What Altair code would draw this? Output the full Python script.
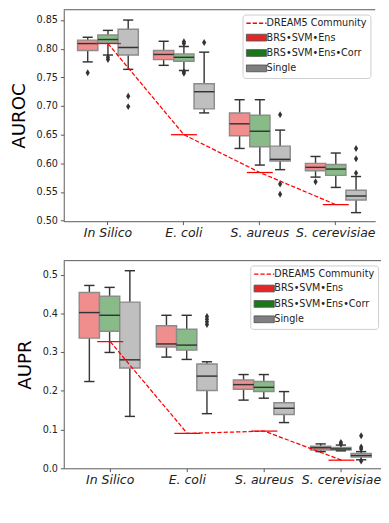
import altair as alt
import pandas as pd

FONT = "DejaVu Sans"

categories = ["In Silico", "E. coli", "S. aureus", "S. cerevisiae"]
methods = ["BRS•SVM•Ens", "BRS•SVM•Ens•Corr", "Single"]
community = "DREAM5 Community"

# box statistics per category: [whisker_low, q1, median, q3, whisker_high]
auroc_ens = [[0.777, 0.797, 0.809, 0.815, 0.820],
             [0.771, 0.781, 0.790, 0.797, 0.813],
             [0.626, 0.648, 0.669, 0.688, 0.711],
             [0.576, 0.587, 0.593, 0.600, 0.612]]
auroc_corr = [[0.789, 0.810, 0.816, 0.824, 0.832],
              [0.762, 0.778, 0.785, 0.791, 0.804],
              [0.597, 0.629, 0.656, 0.684, 0.711],
              [0.558, 0.579, 0.590, 0.598, 0.618]]
auroc_single = [[0.764, 0.789, 0.802, 0.834, 0.850],
                [0.688, 0.695, 0.725, 0.739, 0.794],
                [0.589, 0.604, 0.607, 0.630, 0.658],
                [0.514, 0.536, 0.543, 0.553, 0.577]]
auroc_out_ens = [[0.758], [], [], [0.568]]
auroc_out_corr = [[0.785, 0.781], [0.812, 0.809, 0.760, 0.757], [], []]
auroc_out_single = [[0.717, 0.699], [0.811], [0.685, 0.564, 0.546], [0.626, 0.608, 0.583]]
auroc_dream5 = [0.809, 0.650, 0.584, 0.528]

aupr_ens = [[0.224, 0.336, 0.402, 0.454, 0.472],
            [0.287, 0.313, 0.321, 0.368, 0.395],
            [0.176, 0.204, 0.216, 0.228, 0.242],
            [0.043, 0.047, 0.053, 0.057, 0.063]]
aupr_corr = [[0.299, 0.354, 0.395, 0.444, 0.467],
             [0.281, 0.305, 0.318, 0.359, 0.395],
             [0.181, 0.198, 0.209, 0.224, 0.242],
             [0.045, 0.047, 0.050, 0.054, 0.060]]
aupr_single = [[0.134, 0.259, 0.280, 0.429, 0.510],
               [0.141, 0.201, 0.238, 0.269, 0.275],
               [0.118, 0.139, 0.155, 0.169, 0.198],
               [0.022, 0.029, 0.033, 0.038, 0.043]]
aupr_out_ens = [[], [], [], []]
aupr_out_corr = [[], [], [], [0.067, 0.063]]
aupr_out_single = [[], [0.392, 0.385, 0.378, 0.371], [], [0.084, 0.055, 0.050, 0.019]]
aupr_dream5 = [0.327, 0.090, 0.096, 0.021]

auroc_ticks = [0.50, 0.55, 0.60, 0.65, 0.70, 0.75, 0.80, 0.85]
aupr_ticks = [0.0, 0.1, 0.2, 0.3, 0.4, 0.5]

LIGHT = ["#f08e8e", "#89bb89", "#bfbfbf"]
LEG_DOMAIN = [community] + methods
LEG_RANGE = ["#ff0000", "#e32626", "#177a17", "#7f7f7f"]
DIAMOND = "M0,-1L0.6,0L0,1L-0.6,0Z"
IS_D = "datum.value === 'DREAM5 Community'"


def stats_df(rows_by_method):
    recs = []
    for m, rows in zip(methods, rows_by_method):
        for c, r in zip(categories, rows):
            recs.append(dict(category=c, method=m, low=r[0], q1=r[1], med=r[2], q3=r[3], high=r[4]))
    return pd.DataFrame(recs)


def outlier_df(out_by_method):
    recs = []
    for m, rows in zip(methods, out_by_method):
        for c, vals in zip(categories, rows):
            for v in vals:
                recs.append(dict(category=c, method=m, value=v))
    return pd.DataFrame(recs)


def panel(stats, outl, dream, ytitle, domain, ticks, fmt, width, height, po, align, box_w):
    xsc = alt.Scale(domain=categories, paddingInner=0, paddingOuter=po, align=align)
    offsc = alt.Scale(domain=methods, paddingInner=0, paddingOuter=0.375)
    ysc = alt.Scale(domain=domain, nice=False, zero=False)
    xaxis = alt.Axis(title=None, labelAngle=0, labelFontStyle="italic", labelFontSize=13,
                     labelPadding=2, grid=False)
    yaxis = alt.Axis(title=ytitle, values=ticks, format=fmt, labelFontSize=10, titleFontSize=19,
                     titleFontWeight="normal", titleColor="black", titlePadding=8,
                     labelPadding=3, grid=False, labelOverlap=False)

    def Y(field):
        return alt.Y(field, type="quantitative", scale=ysc, axis=yaxis)

    X = alt.X("category:N", scale=xsc, sort=categories, axis=xaxis)
    XO = alt.XOffset("method:N", scale=offsc, sort=methods)
    base = alt.Chart(stats)

    whisk = base.mark_rule(color="#3a3a3a", strokeWidth=1.5).encode(
        x=X, xOffset=XO, y=Y("low"), y2="high:Q")
    box = base.mark_bar(stroke="#8c8c8c", strokeWidth=1.5).encode(
        x=X, xOffset=XO, y=Y("q1"), y2="q3:Q",
        fill=alt.Fill("method:N", scale=alt.Scale(domain=methods, range=LIGHT), legend=None))
    med = base.mark_tick(color="#333333", thickness=1.5, size=box_w, opacity=1).encode(
        x=X, xOffset=XO, y=Y("med"))
    cap_lo = base.mark_tick(color="#333333", thickness=1.5, size=box_w / 2, opacity=1).encode(
        x=X, xOffset=XO, y=Y("low"))
    cap_hi = base.mark_tick(color="#333333", thickness=1.5, size=box_w / 2, opacity=1).encode(
        x=X, xOffset=XO, y=Y("high"))
    fl = alt.Chart(outl).mark_point(shape=DIAMOND, filled=True, color="#333333", size=52,
                                    opacity=1).encode(x=X, xOffset=XO, y=Y("value"))
    legend = alt.Legend(
        title=None, orient="top-right", offset=5, fillColor="white",
        strokeColor="#cccccc", cornerRadius=3, padding=4, labelFont=FONT, labelFontSize=10,
        labelColor="#222222", symbolSize=100, symbolOpacity=1, rowPadding=4, labelOffset=11,
        symbolType={"expr": IS_D + " ? 'M-1,0H3.2' : 'M-1,-0.7H3.2V0.7H-1Z'"},
        symbolStrokeColor={"expr": IS_D + " ? 'red' : '#555555'"},
        symbolStrokeWidth={"expr": IS_D + " ? 1.5 : 1"},
        symbolDash={"expr": IS_D + " ? [4.5, 2] : [1, 0]"},
    )
    carrier = base.mark_bar().encode(
        x=X, xOffset=XO, y=Y("med"), y2="med:Q",
        color=alt.Color("method:N", scale=alt.Scale(domain=LEG_DOMAIN, range=LEG_RANGE), legend=legend))
    ddf = pd.DataFrame({"category": categories, "value": dream})
    seg = alt.Chart(ddf).mark_tick(color="red", thickness=1.3, size=27, opacity=1).encode(
        x=X, y=Y("value"))
    dash = alt.Chart(ddf).mark_line(color="red", strokeDash=[4.5, 2], strokeWidth=1.3).encode(
        x=X, y=Y("value"))
    spine = alt.Chart(pd.DataFrame({"a": [0]})).mark_rule(color="#555555", strokeWidth=1).encode(
        x=alt.value(0), x2=alt.value(width), y=alt.value(0))
    return alt.layer(whisk, box, med, cap_lo, cap_hi, fl, carrier, seg, dash, spine).properties(
        width=width, height=height)


top = panel(stats_df([auroc_ens, auroc_corr, auroc_single]),
            outlier_df([auroc_out_ens, auroc_out_corr, auroc_out_single]),
            auroc_dream5, "AUROC", [0.499, 0.868], auroc_ticks, ".2f", 324, 220, 0.0506, 0.81, 21)
bottom = panel(stats_df([aupr_ens, aupr_corr, aupr_single]),
               outlier_df([aupr_out_ens, aupr_out_corr, aupr_out_single]),
               aupr_dream5, "AUPR", [0.0, 0.536], aupr_ticks, ".1f", 332, 216, 0.07, 0.73, 21.4)

chart = alt.vconcat(top, bottom, spacing=21).resolve_scale(
    color="independent", fill="independent"
).resolve_legend(color="independent", fill="independent").properties(
    padding={"left": 2, "top": -9, "right": -3, "bottom": 0}
).configure(font=FONT).configure_view(stroke=None).configure_axis(
    domainColor="#555555", tickColor="#555555", tickSize=3.5, labelColor="#222222",
    labelFont=FONT, titleFont=FONT, domainWidth=1, tickWidth=1
)

chart.save("out.html", embed_options={"renderer": "svg", "actions": False})
